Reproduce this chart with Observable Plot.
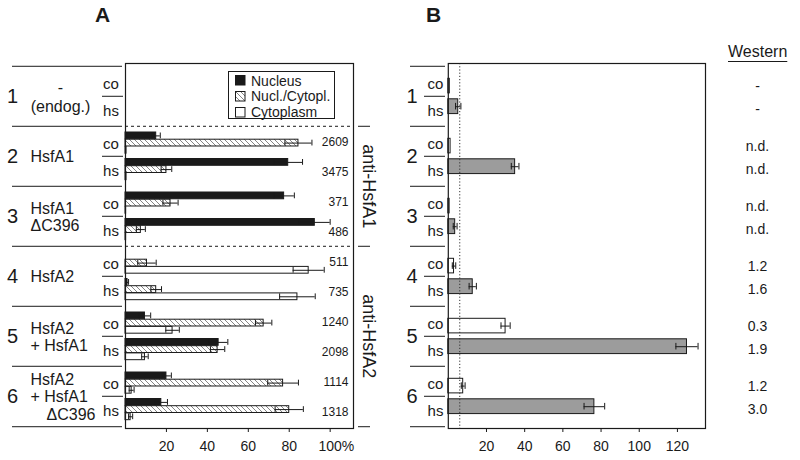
<!DOCTYPE html>
<html>
<head>
<meta charset="utf-8">
<script src="https://cdn.jsdelivr.net/npm/d3@7"></script>
<script src="https://cdn.jsdelivr.net/npm/@observablehq/plot@0.6"></script>
<style>
  html, body { margin: 0; padding: 0; background: #fff; }
  #wrap { position: relative; width: 800px; height: 460px; overflow: hidden;
          font-family: "Liberation Sans", Arial, Helvetica, sans-serif; color: #1a1a1a; }
  .abs { position: absolute; white-space: nowrap; }
  .title { font-weight: bold; font-size: 21px; line-height: 21px; }
  .legend { position: absolute; border: 1px solid #1a1a1a; box-sizing: border-box; background: #fff; }
  .legend .item { position: absolute; left: 22px; font-size: 14px; line-height: 15px; }
  .legend svg { position: absolute; left: 6px; }
  .western { font-size: 16px; line-height: 16px; text-decoration: underline; text-underline-offset: 4px; text-decoration-thickness: 1px; }
</style>
</head>
<body>
<svg width="0" height="0" style="position:absolute">
  <defs>
    <pattern id="hatch" patternUnits="userSpaceOnUse" width="5" height="5">
      <rect width="5" height="5" fill="#fff"/>
      <path d="M0,0L5,5M-1,4L1,6M4,-1L6,1" stroke="#666" stroke-width="0.8"/>
    </pattern>
  </defs>
</svg>
<div id="wrap">
  <div class="abs title" style="left:95px;top:4px;">A</div>
  <div class="abs title" style="left:426px;top:4px;">B</div>
  <div class="abs western" style="left:728px;top:44px;">Western</div>
</div>
<script>
// ---------------- data ----------------
const constructIds   = ["1", "2", "3", "4", "5", "6"];
const constructNames = ["-\n(endog.)", "HsfA1", "HsfA1\nΔC396", "HsfA2", "HsfA2\n+ HsfA1", "HsfA2\n+ HsfA1\n\u2002\u2002ΔC396"];
const conditions     = ["co", "hs"];
const seriesNames    = ["Nucleus", "Nucl./Cytopl.", "Cytoplasm"];

// Panel A: % of cells (order 1co,1hs,2co,2hs,...,6hs)
const nucleusPct   = [null, null, 15,   79.5, 77.5, 92.5, 0,    1,   9.5,  45.5, 20,  17.5];
const nucleusErr   = [null, null, 2,    7,    5,    7.5,  0,    0.5, 2.8,  4.5,  2.4, 3];
const nuclCytoPct  = [null, null, 84.5, 20,   22,   7.5,  10.5, 15,  67.5, 45,   77,  80];
const nuclCytoErr  = [null, null, 6.6,  2.6,  3.7,  2.2,  4.5,  2.6, 4,    3.5,  7.5, 6.9];
const cytoplasmPct = [null, null, 0.5,  0.5,  0.3,  0.3,  89.5, 84,  23,   9.5,  3,   2.5];
const cytoplasmErr = [null, null, 0,    0,    0,    0,    7.6,  8.7, 3.3,  1.6,  1.2, 1];
const cellCounts   = ["", "", "2609", "3475", "371", "486", "511", "735", "1240", "2098", "1114", "1318"];
const antibodyGroups = [
  {label: "anti-HsfA1", first: 2, last: 3},
  {label: "anti-HsfA2", first: 4, last: 6}
];
const ticksA = [20, 40, 60, 80, 100];

// Panel B: reporter activity (one per construct)
const reporterCo    = [0.8, 1.2, 0.7, 3,   30,  7.8];
const reporterCoErr = [0,   0,   0,   0.9, 2.4, 1];
const reporterHs    = [5.2, 35,  3.6, 12.8, 125, 76.5];
const reporterHsErr = [1.4, 2,   1,   1.9, 5.8, 5.4];
const backgroundLevel = 6;
const western = ["-", "-", "n.d.", "n.d.", "n.d.", "n.d.", "1.2", "1.6", "0.3", "1.9", "1.2", "3.0"];
const ticksB = [20, 40, 60, 80, 100, 120];

// ---------------- derived tables ----------------
const rows = constructIds.flatMap((c, i) => conditions.map((k, j) => {
  const n = i * 2 + j;
  return {
    construct: c, name: constructNames[i], cond: k, key: `${c} ${k}`,
    count: cellCounts[n], western: western[n],
    reporter: k === "co" ? reporterCo[i] : reporterHs[i],
    reporterErr: k === "co" ? reporterCoErr[i] : reporterHsErr[i]
  };
}));
const keys = rows.map(r => r.key);
const coRows = rows.filter(r => r.cond === "co");
const hsRows = rows.filter(r => r.cond === "hs");
const lastRow = rows[rows.length - 1];
const seriesData = [[nucleusPct, nucleusErr], [nuclCytoPct, nuclCytoErr], [cytoplasmPct, cytoplasmErr]];
const barsA = rows.flatMap((r, i) => seriesNames.map((s, j) => ({
  ...r, series: s, value: seriesData[j][0][i], err: seriesData[j][1][i]
}))).filter(d => d.value != null);
const groupTops = antibodyGroups.map(g => ({key: `${g.first} co`}));
const groupCenters = antibodyGroups.map(g => ({label: g.label, key: keys[(g.first - 1) * 2 + (g.last - g.first + 1)]}));

// ---------------- layout ----------------
const FONT = '"Liberation Sans", Arial, Helvetica, sans-serif';
const INK = "#1a1a1a";
const H = 460, mTop = 63, mBottom = 32;
const bw = (H - mTop - mBottom) / keys.length;
const wrap = document.getElementById("wrap");

function baseStyle(left) {
  return {position: "absolute", left: left + "px", top: "0px", background: "transparent",
          fontFamily: FONT, fontSize: "14px", color: INK, overflow: "visible"};
}

// ---------------- Panel A ----------------
const barH = 7.2;
const barTopA = {co: 6, hs: 2.5};
const barMarksA = [];
for (const cond of conditions) {
  seriesNames.forEach((s, j) => {
    const data = barsA.filter(d => d.cond === cond && d.series === s);
    const top = barTopA[cond] + j * barH;
    const bottom = bw - top - barH;
    barMarksA.push(Plot.barX(data, {x: "value", y: "key", fill: "series", stroke: INK, strokeWidth: 1, insetTop: top, insetBottom: bottom}));
    const e = data.filter(d => d.err > 0);
    barMarksA.push(Plot.ruleY(e, {y: "key", x1: d => Math.max(0, d.value - d.err), x2: d => d.value + d.err, dy: top + barH / 2 - bw / 2, stroke: INK, strokeWidth: 1}));
    barMarksA.push(Plot.tickX(e, {x: d => d.value - d.err, y: "key", insetTop: top + 0.5, insetBottom: bottom + 0.5, stroke: INK, strokeWidth: 1}));
    barMarksA.push(Plot.tickX(e, {x: d => d.value + d.err, y: "key", insetTop: top + 0.5, insetBottom: bottom + 0.5, stroke: INK, strokeWidth: 1}));
  });
}

const plotA = Plot.plot({
  width: 400, height: H,
  marginLeft: 125, marginRight: 47, marginTop: mTop, marginBottom: mBottom,
  x: {domain: [0, 111.4]},
  y: {domain: keys, padding: 0, axis: null},
  color: {domain: seriesNames, range: [INK, "url(#hatch)", "#fff"]},
  style: baseStyle(0),
  marks: [
    ...barMarksA,
    Plot.frame({stroke: INK, strokeWidth: 1.2}),
    // dashed antibody-group separators
    Plot.ruleY(groupTops.filter((g, i) => i > 0 || true), {y: "key", dy: -bw / 2, stroke: INK, strokeWidth: 1, strokeDasharray: "3,3"}),
    // right-hand group ticks
    Plot.ruleY(groupTops, {y: "key", dy: -bw / 2, insetLeft: 233, insetRight: -17, stroke: INK, strokeWidth: 1}),
    Plot.ruleY([lastRow], {y: "key", dy: bw / 2, insetLeft: 233, insetRight: -17, stroke: INK, strokeWidth: 1}),
    Plot.text(groupCenters, {y: "key", dy: -bw / 2, frameAnchor: "right", dx: 15, text: "label", rotate: 90, fontSize: 18, textAnchor: "middle"}),
    // construct separators on the left
    Plot.ruleY(coRows, {y: "key", dy: -bw / 2, insetLeft: -113, insetRight: 231, stroke: INK, strokeWidth: 1}),
    Plot.ruleY([lastRow], {y: "key", dy: bw / 2, insetLeft: -113, insetRight: 231, stroke: INK, strokeWidth: 1}),
    Plot.ruleY(hsRows, {y: "key", dy: -bw / 2, insetLeft: -23, insetRight: 230, stroke: INK, strokeWidth: 1}),
    // construct labels
    Plot.text(coRows, {y: "key", dy: bw / 2, frameAnchor: "left", dx: -113, text: "construct", fontSize: 20, textAnchor: "middle"}),
    Plot.text(coRows.filter(r => r.construct === "1"), {y: "key", dy: bw / 2, frameAnchor: "left", dx: -65, text: "name", fontSize: 16, textAnchor: "middle", lineHeight: 1.15}),
    Plot.text(coRows.filter(r => r.construct !== "1"), {y: "key", dy: bw / 2, frameAnchor: "left", dx: -95, text: "name", fontSize: 16, textAnchor: "start", lineHeight: 1.1}),
    Plot.text(coRows, {y: "key", dy: 3, frameAnchor: "left", dx: -14.5, text: "cond", fontSize: 15, textAnchor: "middle"}),
    Plot.text(hsRows, {y: "key", dy: 0, frameAnchor: "left", dx: -14.5, text: "cond", fontSize: 15, textAnchor: "middle"}),
    // cell counts
    Plot.text(rows.filter(r => r.count), {y: "key", dy: 1, frameAnchor: "right", dx: -5, text: "count", fontSize: 12, textAnchor: "end"}),
    // x axis
    Plot.axisX({ticks: ticksA, tickFormat: d => `${d}`, tickSize: 4, tickPadding: 9, fontSize: 14, stroke: INK, label: null}),
    Plot.text([ticksA[ticksA.length - 1]], {x: d => d, text: () => "%", frameAnchor: "bottom", lineAnchor: "top", dy: 13, dx: 11.7, textAnchor: "start", fontSize: 14})
  ]
});
wrap.appendChild(plotA);

// ---------------- Panel B ----------------
const barB = {co: {top: 12.3, h: 15}, hs: {top: 2.8, h: 15.2}};
const fillB = {co: "#fff", hs: "#9c9c9c"};
const westernDy = {co: 5, hs: -1.5};
const barMarksB = [];
for (const cond of conditions) {
  const data = rows.filter(r => r.cond === cond);
  const {top, h} = barB[cond];
  const bottom = bw - top - h;
  barMarksB.push(Plot.barX(data, {x: "reporter", y: "key", fill: fillB[cond], stroke: INK, strokeWidth: 1, insetTop: top, insetBottom: bottom}));
  const e = data.filter(d => d.reporterErr > 0);
  const capTop = top + h / 2 - 3.5, capBottom = bw - (top + h / 2 + 3.5);
  barMarksB.push(Plot.ruleY(e, {y: "key", x1: d => d.reporter - d.reporterErr, x2: d => d.reporter + d.reporterErr, dy: top + h / 2 - bw / 2, stroke: INK, strokeWidth: 1}));
  barMarksB.push(Plot.tickX(e, {x: d => d.reporter - d.reporterErr, y: "key", insetTop: capTop, insetBottom: capBottom, stroke: INK, strokeWidth: 1}));
  barMarksB.push(Plot.tickX(e, {x: d => d.reporter + d.reporterErr, y: "key", insetTop: capTop, insetBottom: capBottom, stroke: INK, strokeWidth: 1}));
  barMarksB.push(Plot.text(data, {y: "key", dy: westernDy[cond], frameAnchor: "right", dx: 52, text: "western", fontSize: 14, textAnchor: "middle"}));
  barMarksB.push(Plot.text(data, {y: "key", dy: cond === "co" ? 3 : 0, frameAnchor: "left", dx: -12.8, text: "cond", fontSize: 15, textAnchor: "middle"}));
}

const plotB = Plot.plot({
  width: 400, height: H,
  marginLeft: 47.8, marginRight: 95, marginTop: mTop, marginBottom: mBottom,
  x: {domain: [0, 134.7]},
  y: {domain: keys, padding: 0, axis: null},
  style: baseStyle(400),
  marks: [
    ...barMarksB,
    Plot.ruleX([backgroundLevel], {x: d => d, stroke: "#333", strokeWidth: 1, strokeDasharray: "1.2,2"}),
    Plot.frame({stroke: INK, strokeWidth: 1.2}),
    Plot.ruleY(coRows, {y: "key", dy: -bw / 2, insetLeft: -37.8, insetRight: 260, stroke: INK, strokeWidth: 1}),
    Plot.ruleY([lastRow], {y: "key", dy: bw / 2, insetLeft: -37.8, insetRight: 260, stroke: INK, strokeWidth: 1}),
    Plot.ruleY(hsRows, {y: "key", dy: -bw / 2, insetLeft: -23.8, insetRight: 260, stroke: INK, strokeWidth: 1}),
    Plot.text(coRows, {y: "key", dy: bw / 2, frameAnchor: "left", dx: -36.3, text: "construct", fontSize: 20, textAnchor: "middle"}),
    Plot.axisX({ticks: ticksB, tickFormat: d => `${d}`, tickSize: 4, tickPadding: 9, fontSize: 14, stroke: INK, label: null})
  ]
});
wrap.appendChild(plotB);

// ---------------- Legend (panel A) ----------------
const legendFills = [INK, "url(#hatch)", "#fff"];
const legend = document.createElement("div");
legend.className = "legend";
Object.assign(legend.style, {left: "228px", top: "71px", width: "107px", height: "48px"});
seriesNames.forEach((s, i) => {
  const baseline = 13.3 + i * 15.7;
  const sw = document.createElementNS("http://www.w3.org/2000/svg", "svg");
  sw.setAttribute("width", "11"); sw.setAttribute("height", "11");
  sw.style.top = (baseline - 10) + "px";
  sw.innerHTML = `<rect x="0.5" y="0.5" width="9.5" height="9.5" fill="${legendFills[i]}" stroke="${INK}" stroke-width="1"/>`;
  legend.appendChild(sw);
  const t = document.createElement("div");
  t.className = "item";
  t.style.top = (baseline - 11.8) + "px";
  t.textContent = s;
  legend.appendChild(t);
});
wrap.appendChild(legend);
</script>
</body>
</html>
